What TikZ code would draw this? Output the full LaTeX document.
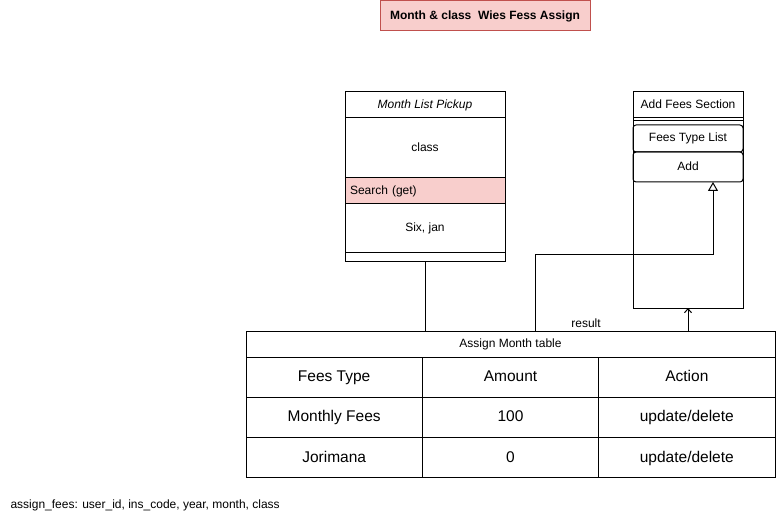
\documentclass[tikz,border=0pt]{standalone}
\usepackage{fontspec}
\setmainfont{Liberation Sans}
\usetikzlibrary{positioning, arrows.meta}
\definecolor{pinkfill}{HTML}{F8CECC}
\definecolor{pinkline}{HTML}{C0504D}

\begin{document}
\begin{tikzpicture}[x=1pt, y=-1pt, line width=1pt,
  font=\fontsize{12}{14}\selectfont,
  part/.style={draw, outer sep=0pt, inner sep=0pt, minimum width=160pt,
    text height=9pt, text depth=2.5pt},
  sect/.style={draw, outer sep=0pt, inner sep=0pt, minimum width=110pt,
    text height=9pt, text depth=2.5pt},
  cell/.style={draw, outer sep=0pt, inner sep=0pt, minimum width=176.33pt,
    minimum height=40.3pt, text height=11pt, text depth=2.5pt,
    font=\fontsize{15.5}{18}\selectfont},
  inh/.style={-{Triangle[open, length=9pt, width=10pt]}},
  dep/.style={-{Straight Barb[length=4pt, width=7pt]}}]
\useasboundingbox (0,0) rectangle (776,521);

% title
\node (title) [draw=pinkline, fill=pinkfill, minimum width=210pt, minimum height=30pt,
  font=\fontsize{12}{14}\selectfont\bfseries] at (485,16) {Month \& class\ \ Wies Fess Assign};

% month list pickup
\node (mhead) [part, minimum height=26pt, font=\fontsize{12}{14}\selectfont\itshape] at (425,105) {Month List Pickup};
\node (mclass) [part, minimum height=60pt, below=0pt of mhead] {class};
\node (msearch) [part, minimum height=26pt, fill=pinkfill, text width=150pt, align=left,
  inner xsep=5pt, below=0pt of mclass] {Search (get)};
\node (msix) [part, minimum height=49pt, below=0pt of msearch] {Six, jan};
\node (mfoot) [part, minimum height=9pt, text height=0pt, text depth=0pt, below=0pt of msix] {};

% add fees section
\node (afsbody) [sect, minimum height=216pt] at (688,200) {};
\node (afshead) [sect, minimum height=26pt] at (688,105) {Add Fees Section};
\node (afsgap) [sect, minimum height=3pt, text height=0pt, text depth=0pt, below=0pt of afshead] {};
\node (feeslist) [sect, rounded corners=3pt, minimum height=27pt, below=4pt of afsgap] {Fees Type List};
\node (add) [sect, rounded corners=3pt, minimum height=30pt, below=0pt of feeslist] {Add};

% assign month table
\node (thead) [draw, outer sep=0pt, minimum width=529pt, minimum height=26pt,
  text height=9pt, text depth=2.5pt] at (510.5,344) {Assign Month table};
\node (c11) [cell, below right=0pt and 0pt of thead.south west] {Fees Type};
\node (c12) [cell, right=0pt of c11] {Amount};
\node (c13) [cell, right=0pt of c12] {Action};
\node (c21) [cell, below=0pt of c11] {Monthly Fees};
\node (c22) [cell, right=0pt of c21] {100};
\node (c23) [cell, right=0pt of c22] {update/delete};
\node (c31) [cell, below=0pt of c21] {Jorimana};
\node (c32) [cell, right=0pt of c31] {0};
\node (c33) [cell, right=0pt of c32] {update/delete};

\node (result) at (586,323) {result};

\draw (mfoot.south) -- (mfoot.south |- thead.north);
\draw[inh] ([xshift=24.5pt]thead.north) -- ++(0,-76) -| ([xshift=25pt]add.south);
\draw[dep] (afsbody.south |- thead.north) -- (afsbody.south);

\node (note) [anchor=west, inner sep=0pt] at (10,505) {assign\_fees: user\_id, ins\_code, year, month, class};
\end{tikzpicture}
\end{document}
